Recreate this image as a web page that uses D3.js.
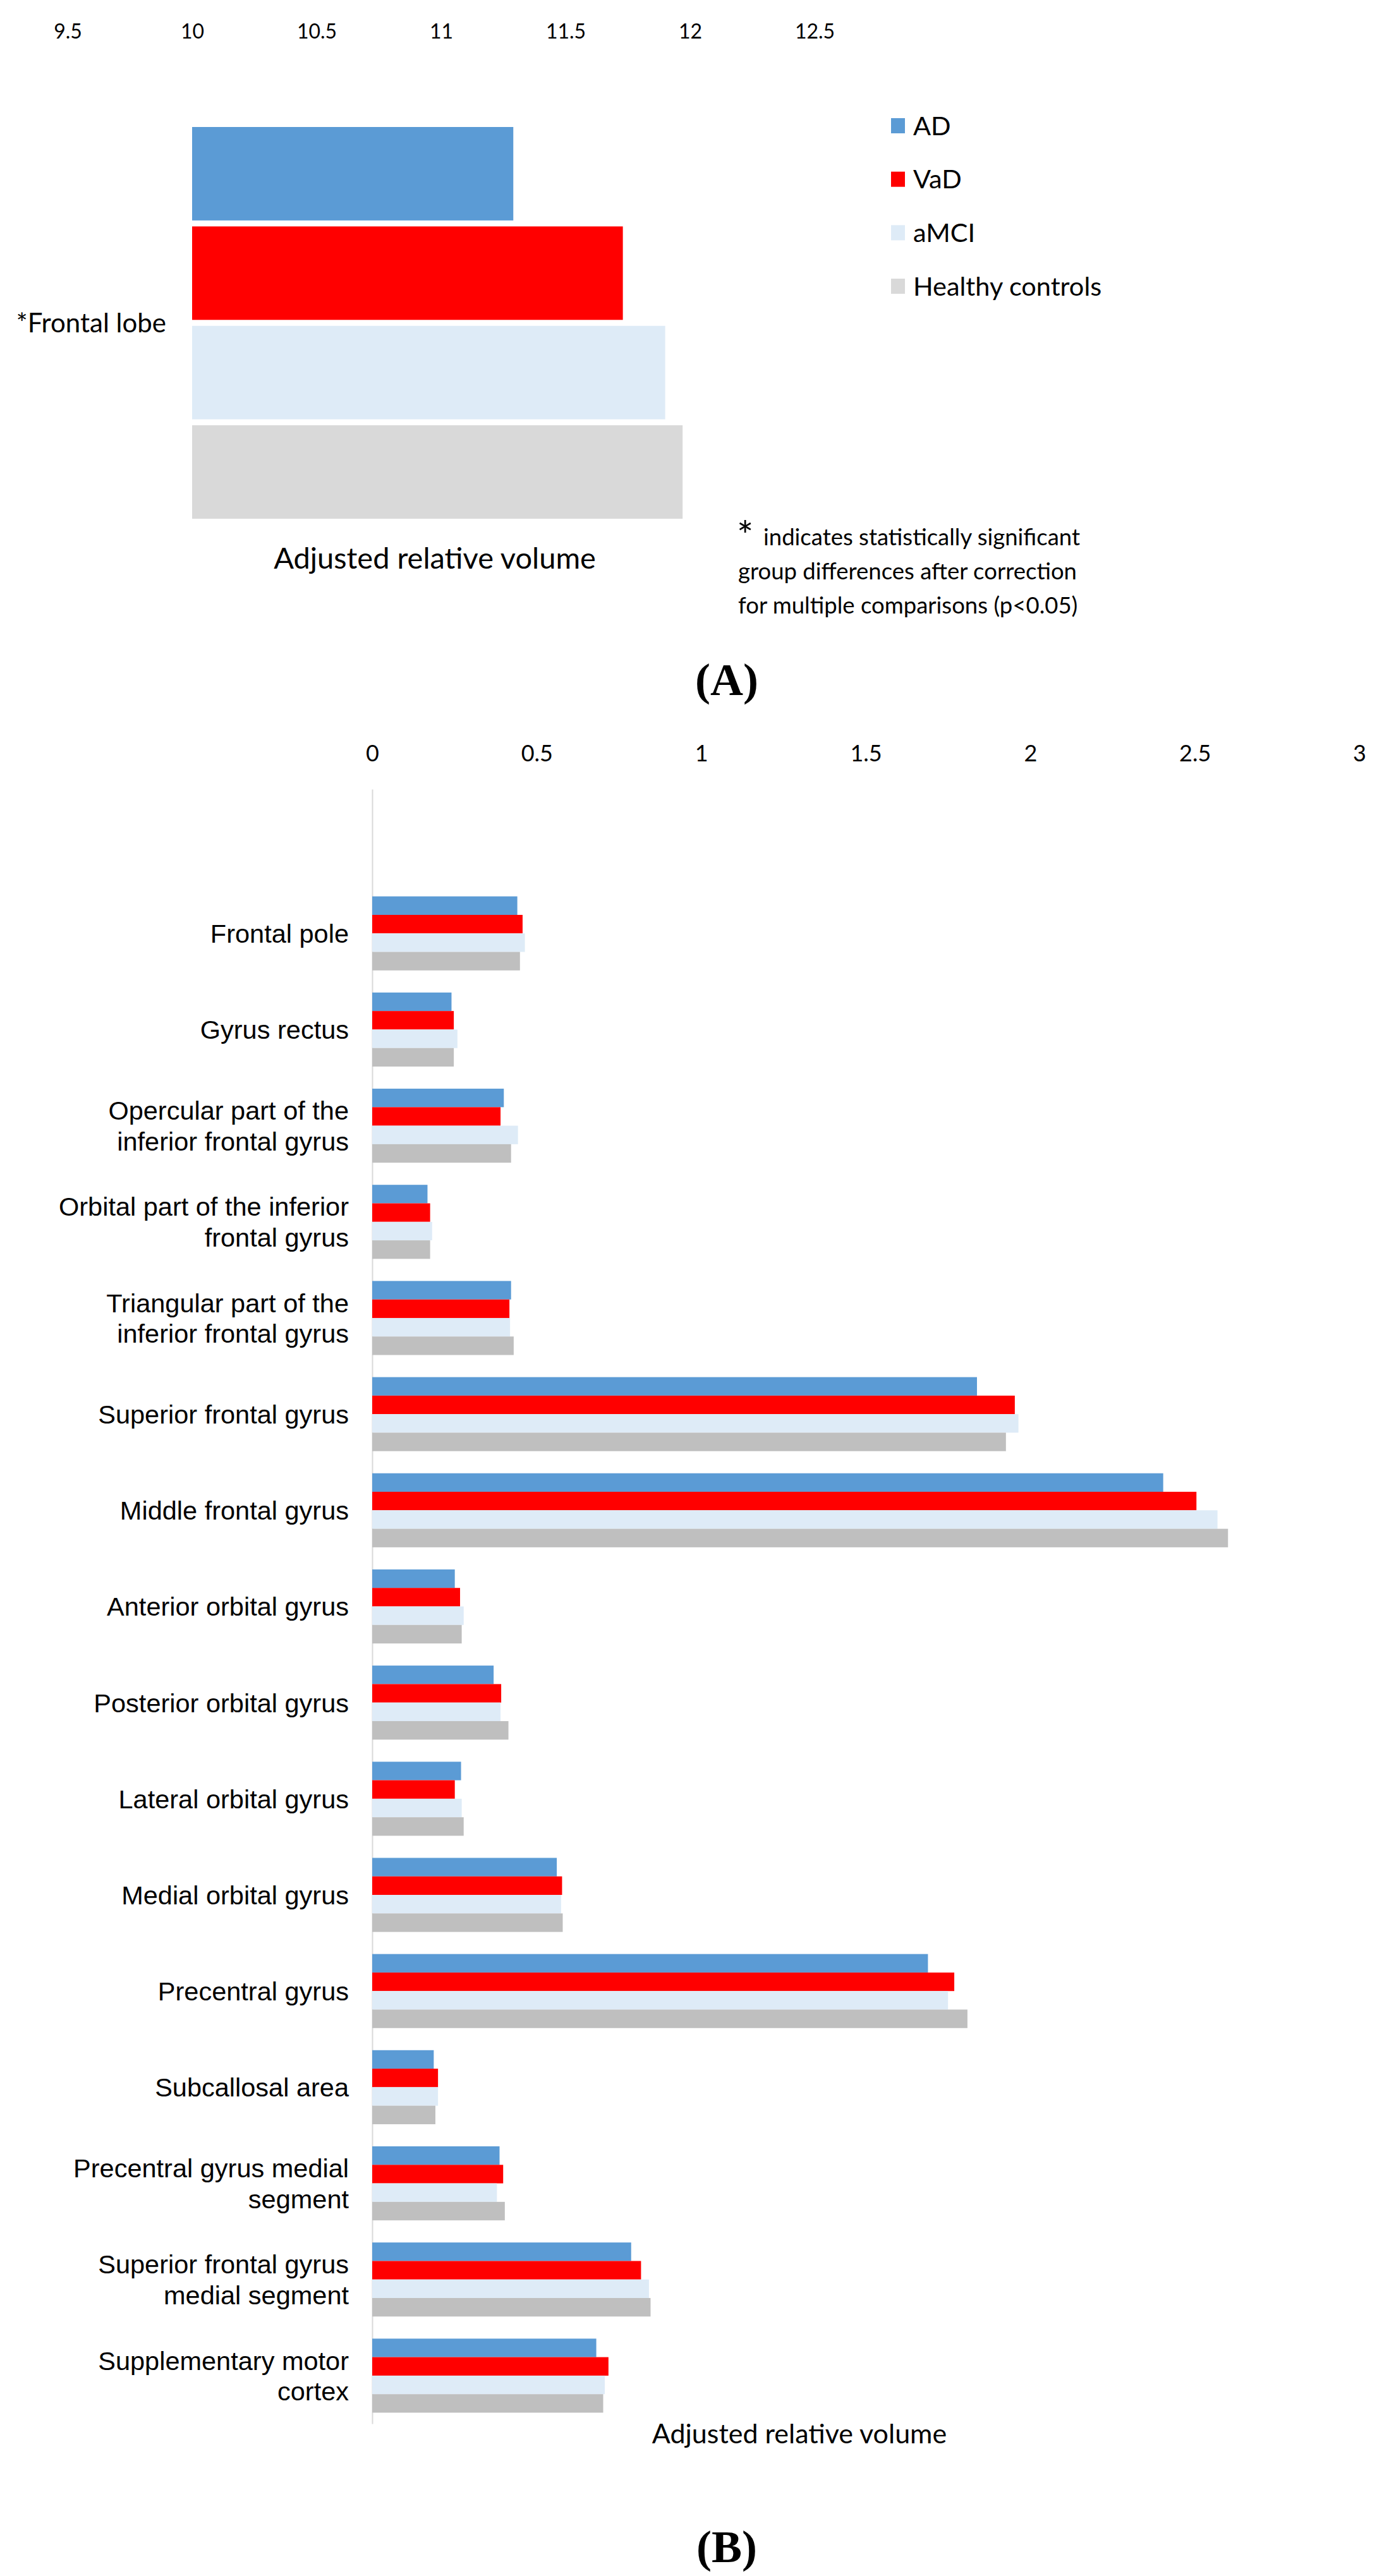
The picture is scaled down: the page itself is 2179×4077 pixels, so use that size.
<!DOCTYPE html>
<html>
<head>
<meta charset="utf-8">
<script src="https://cdn.jsdelivr.net/npm/d3@7"></script>
<style>
  body { margin: 0; background: #fff; }
  .sans { font-family: Lato, "Open Sans", sans-serif; }
  .arial { font-family: "Liberation Sans", Arial, sans-serif; }
  .panel { font-family: "Liberation Serif", "Times New Roman", serif; font-weight: bold; }
</style>
</head>
<body>
<div id="chart"></div>
<script>
// Groups (series)
const groups = ["AD", "VaD", "aMCI", "Healthy controls"];
const colorsA = ["#5B9BD5", "#FF0000", "#DEEBF7", "#D9D9D9"];
const colorsB = ["#5B9BD5", "#FF0000", "#DEEBF7", "#BFBFBF"];

// Panel A: whole frontal lobe
const lobeLabel = "*Frontal lobe";
const lobeValues = [11.29, 11.73, 11.90, 11.97];
const lobeBase = 10;
const ticksA = [9.5, 10, 10.5, 11, 11.5, 12, 12.5];
const noteLines = ["indicates statistically significant",
                   "group differences after correction",
                   "for multiple comparisons (p<0.05)"];

// Panel B: frontal sub-regions (label lines as wrapped in the original)
const regions = [
    ["Frontal pole"],
    ["Gyrus rectus"],
    ["Opercular part of the", "inferior frontal gyrus"],
    ["Orbital part of the inferior", "frontal gyrus"],
    ["Triangular part of the", "inferior frontal gyrus"],
    ["Superior frontal gyrus"],
    ["Middle frontal gyrus"],
    ["Anterior orbital gyrus"],
    ["Posterior orbital gyrus"],
    ["Lateral orbital gyrus"],
    ["Medial orbital gyrus"],
    ["Precentral gyrus"],
    ["Subcallosal area"],
    ["Precentral gyrus medial", "segment"],
    ["Superior frontal gyrus", "medial segment"],
    ["Supplementary motor", "cortex"]
];
const adValues   = [0.441, 0.241, 0.400, 0.168, 0.422, 1.838, 2.404, 0.251, 0.369, 0.270, 0.561, 1.689, 0.187, 0.387, 0.787, 0.681];
const vadValues  = [0.457, 0.248, 0.390, 0.176, 0.417, 1.953, 2.505, 0.267, 0.392, 0.251, 0.577, 1.769, 0.200, 0.398, 0.817, 0.718];
const amciValues = [0.464, 0.259, 0.443, 0.182, 0.419, 1.964, 2.569, 0.278, 0.390, 0.272, 0.574, 1.750, 0.200, 0.379, 0.841, 0.707];
const hcValues   = [0.449, 0.248, 0.422, 0.176, 0.430, 1.926, 2.601, 0.272, 0.414, 0.278, 0.579, 1.809, 0.192, 0.403, 0.846, 0.702];
const ticksB = [0, 0.5, 1, 1.5, 2, 2.5, 3];

const W = 2179, H = 4077;
const svg = d3.select("#chart").append("svg")
    .attr("width", W)
    .attr("height", H)
    .style("display", "block");

// ---------- Panel A ----------
const xA = d3.scaleLinear().domain([9.5, 12.5]).range([107, 1289]);
const yA = d3.scaleBand().domain(groups).range([201, 821]).paddingInner(0.06);
const colA = d3.scaleOrdinal().domain(groups).range(colorsA);

svg.append("g")
    .attr("transform", "translate(0,61)")
    .call(d3.axisTop(xA).tickValues(ticksA).tickSize(0).tickPadding(0).tickFormat(d3.format("")))
    .call(g => g.select(".domain").remove())
    .call(g => g.selectAll("text")
        .attr("class", "sans")
        .attr("font-size", 32)
        .attr("fill", "#000"));

svg.append("g").selectAll("rect")
    .data(groups.map((k, i) => ({ key: k, value: lobeValues[i] })))
    .join("rect")
    .attr("x", xA(lobeBase))
    .attr("y", d => yA(d.key))
    .attr("width", d => xA(d.value) - xA(lobeBase))
    .attr("height", yA.bandwidth())
    .attr("fill", d => colA(d.key));

svg.append("text")
    .attr("class", "sans")
    .attr("x", 263)
    .attr("y", (yA.range()[0] + yA.range()[1]) / 2)
    .attr("dy", "0.35em")
    .attr("text-anchor", "end")
    .attr("font-size", 42)
    .text(lobeLabel);

svg.append("text")
    .attr("class", "sans")
    .attr("x", 688)
    .attr("y", 884)
    .attr("dy", "0.35em")
    .attr("text-anchor", "middle")
    .attr("font-size", 47)
    .text("Adjusted relative volume");

// Legend
const legendY = d3.scalePoint().domain(groups).range([199, 453]);
const legend = svg.append("g").selectAll("g")
    .data(groups)
    .join("g")
    .attr("transform", d => `translate(1410,${legendY(d)})`);
legend.append("rect")
    .attr("x", 0)
    .attr("y", -12)
    .attr("width", 22)
    .attr("height", 24)
    .attr("fill", d => colA(d));
legend.append("text")
    .attr("class", "sans")
    .attr("x", 35)
    .attr("dy", "0.35em")
    .attr("font-size", 41.5)
    .text(d => d);

// Significance note
svg.append("text")
    .attr("class", "sans")
    .attr("x", 1166)
    .attr("y", 870)
    .attr("font-size", 62)
    .text("*");
svg.append("g").selectAll("text")
    .data(noteLines)
    .join("text")
    .attr("class", "sans")
    .attr("x", (d, i) => i === 0 ? 1208 : 1168)
    .attr("y", (d, i) => 850 + i * 54)
    .attr("dy", "0.35em")
    .attr("font-size", 36.5)
    .text(d => d);

svg.append("text")
    .attr("class", "panel")
    .attr("x", 1150)
    .attr("y", 1075)
    .attr("dy", "0.35em")
    .attr("text-anchor", "middle")
    .attr("font-size", 72)
    .text("(A)");

// ---------- Panel B ----------
const keys = regions.map(r => r.join(" "));
const series = [adValues, vadValues, amciValues, hcValues];
const xB = d3.scaleLinear().domain([0, 3]).range([589, 2151]);
// leading blank category as in the original layout
const yB = d3.scaleBand().domain(["", ...keys]).range([1249, 3836]).paddingInner(0.23).paddingOuter(0.115);
const yInner = d3.scaleBand().domain(groups).range([0, yB.bandwidth()]);
const colB = d3.scaleOrdinal().domain(groups).range(colorsB);

svg.append("g")
    .attr("transform", "translate(0,1205)")
    .call(d3.axisTop(xB).tickValues(ticksB).tickSize(0).tickPadding(0).tickFormat(d3.format("")))
    .call(g => g.select(".domain").remove())
    .call(g => g.selectAll("text")
        .attr("class", "sans")
        .attr("font-size", 36)
        .attr("fill", "#000"));

svg.append("g")
    .attr("transform", `translate(${xB(0)},0)`)
    .call(d3.axisLeft(yB).tickSize(0).tickSizeOuter(0).tickFormat(""))
    .call(g => g.select(".domain").attr("stroke", "#D9D9D9").attr("stroke-width", 2));

const rows = svg.append("g").selectAll("g")
    .data(keys)
    .join("g")
    .attr("transform", d => `translate(0,${yB(d)})`);

rows.selectAll("rect")
    .data((d, i) => groups.map((k, j) => ({ key: k, value: series[j][i] })))
    .join("rect")
    .attr("x", xB(0))
    .attr("y", d => yInner(d.key))
    .attr("width", d => xB(d.value) - xB(0))
    .attr("height", yInner.bandwidth())
    .attr("fill", d => colB(d.key));

const lineH = 48.5;
rows.append("text")
    .attr("class", "arial")
    .attr("text-anchor", "end")
    .attr("font-size", 41.5)
    .attr("fill", "#000")
    .selectAll("tspan")
    .data((d, i) => regions[i].map((t, j, arr) => ({ t, off: (j - (arr.length - 1) / 2) * lineH })))
    .join("tspan")
    .attr("x", 552)
    .attr("y", d => yB.bandwidth() / 2 + d.off)
    .attr("dy", "0.36em")
    .text(d => d.t);

svg.append("text")
    .attr("class", "sans")
    .attr("x", 1265)
    .attr("y", 3852)
    .attr("dy", "0.35em")
    .attr("text-anchor", "middle")
    .attr("font-size", 43)
    .text("Adjusted relative volume");

svg.append("text")
    .attr("class", "panel")
    .attr("x", 1150)
    .attr("y", 4030)
    .attr("dy", "0.35em")
    .attr("text-anchor", "middle")
    .attr("font-size", 72)
    .text("(B)");
</script>
</body>
</html>
